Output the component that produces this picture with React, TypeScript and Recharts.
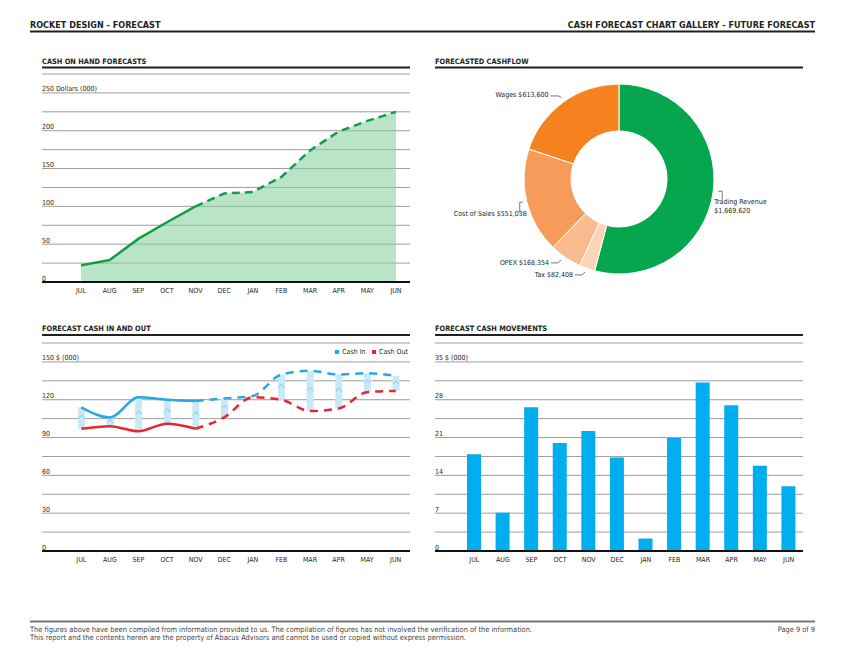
import React from 'react';
import {
  ComposedChart,
  BarChart,
  PieChart,
  Pie,
  Cell,
  Area,
  Line,
  Bar,
  XAxis,
  YAxis,
  CartesianGrid,
} from 'recharts';

const FONT = "'Liberation Sans Narrow', 'DejaVu Sans Condensed', 'Roboto', sans-serif";
const INK = '#231f20';

// ---- data ----
const months = ['JUL', 'AUG', 'SEP', 'OCT', 'NOV', 'DEC', 'JAN', 'FEB', 'MAR', 'APR', 'MAY', 'JUN'];
const lastActual = 4; // NOV: solid up to here, dashed forecast after

const cashOnHand = [22, 29, 57, 79, 100, 117, 119, 139, 174, 199, 213, 225];
const cashIn = [114, 106, 122, 120, 119, 121, 123, 140, 143, 140, 141, 139];
const cashOut = [97, 99, 95, 101, 97, 106, 122, 120, 111, 113, 126, 127];
const cashMovements = [17.9, 7.1, 26.6, 20, 22.2, 17.3, 2.3, 20.9, 31.2, 27, 15.8, 12];

const cashflowNames = ['Trading Revenue', 'Tax', 'OPEX', 'Cost of Sales', 'Wages'];
const cashflowValues = [1669620, 82408, 168354, 551038, 613600];
const cashflowColors = ['#06a64f', '#fcd4b6', '#f9ba8d', '#f79b5b', '#f5821f'];

const handTicks = [0, 25, 50, 75, 100, 125, 150, 175, 200, 225, 250, 275];
const inOutTicks = [0, 15, 30, 45, 60, 75, 90, 105, 120, 135, 150, 165];
const moveTicks = [0, 3.5, 7, 10.5, 14, 17.5, 21, 24.5, 28, 31.5, 35, 38.5];

const handData = months.map((m, i) => ({
  month: m,
  total: cashOnHand[i],
  actual: i <= lastActual ? cashOnHand[i] : null,
  forecast: i >= lastActual ? cashOnHand[i] : null,
}));

const inOutData = months.map((m, i) => ({
  month: m,
  in: cashIn[i],
  out: cashOut[i],
  inActual: i <= lastActual ? cashIn[i] : null,
  inForecast: i >= lastActual ? cashIn[i] : null,
  outActual: i <= lastActual ? cashOut[i] : null,
  outForecast: i >= lastActual ? cashOut[i] : null,
}));

const moveData = months.map((m, i) => ({ month: m, value: cashMovements[i] }));

const pieData = cashflowNames.map((n, i) => ({ name: n, value: cashflowValues[i] }));

const fmt = (v: number) => '$' + v.toLocaleString('en-US');

// y labels sit on top of every second grid line, left aligned
const yTick = (every: number, top: number, unit: string) => (props: any) => {
  const { x, y, payload } = props;
  const v = payload.value;
  const r = v / every;
  if (Math.abs(r - Math.round(r)) > 1e-6) return <g />;
  return (
    <text x={x} y={y - 1.5} fontSize={7} fill={INK} fontFamily={FONT} textAnchor="start">
      {Math.abs(v - top) < 1e-6 ? `${v} ${unit}` : v}
    </text>
  );
};

const xAxisProps = {
  dataKey: 'month',
  tickLine: false,
  tickSize: 0,
  tickMargin: 6.5,
  height: 20,
  interval: 0 as const,
  padding: { left: 25, right: 0 },
  axisLine: { stroke: '#111', strokeWidth: 2 },
  tick: { fontSize: 7, fill: INK, fontFamily: FONT },
};

const yAxisProps = {
  width: 1,
  mirror: true,
  interval: 0 as const,
  axisLine: false,
  tickLine: false,
  tickSize: 0,
  tickMargin: 0,
};

const chartMargin = { top: 6, right: 0, bottom: 6, left: 0 };

// range bar between cash out and cash in, with a little caret
const GapBar = (props: any) => {
  const { x, y, width, height } = props;
  if (!height || Math.abs(height) < 2) return <g />;
  const cx = x + width / 2;
  const top = Math.min(y, y + height);
  const my = top + Math.abs(height) * 0.45;
  return (
    <g>
      <rect x={x} y={top} width={width} height={Math.abs(height)} fill="#c9e9f8" />
      <polyline
        points={`${cx - 3},${my + 1.8} ${cx},${my - 1.8} ${cx + 3},${my + 1.8}`}
        fill="none"
        stroke="#7ccbef"
        strokeWidth={1}
      />
    </g>
  );
};

// label text and leader offsets relative to the outer edge at the slice middle
const pieLabelLayout: Record<string, { dx: number; dy: number[]; anchor: 'start' | 'end'; lines: (v: number) => string[]; leader: number[][] }> = {
  Wages: { dx: -15, dy: [-4.5], anchor: 'end', lines: (v) => [`Wages ${fmt(v)}`], leader: [[-13, -6], [-5, -6], [-2, -4.5]] },
  'Cost of Sales': { dx: 0, dy: [14.5], anchor: 'end', lines: (v) => [`Cost of Sales ${fmt(v)}`], leader: [[-4, 0.7], [-7, 0.7], [-7, 11]] },
  OPEX: { dx: -16.5, dy: [7], anchor: 'end', lines: (v) => [`OPEX ${fmt(v)}`], leader: [[-14.5, 5.4], [-7.5, 5.4], [-4.5, 2.4]] },
  Tax: { dx: -14, dy: [9], anchor: 'end', lines: (v) => [`Tax ${fmt(v)}`], leader: [[-12, 6.5], [-5, 6.5], [-2, 3.5]] },
  'Trading Revenue': { dx: 1, dy: [13, 21.5], anchor: 'start', lines: (v) => ['Trading Revenue', fmt(v)], leader: [[5, 0], [9, 0], [9, 9]] },
};

const PieLabel = (props: any) => {
  const { cx, cy, midAngle, outerRadius, name, value } = props;
  const rad = (Math.PI / 180) * -midAngle;
  const ox = cx + outerRadius * Math.cos(rad);
  const oy = cy + outerRadius * Math.sin(rad);
  const l = pieLabelLayout[name];
  if (!l) return <g />;
  const lines = l.lines(value);
  return (
    <g>
      <polyline
        points={l.leader.map(([a, b]) => `${ox + a},${oy + b}`).join(' ')}
        fill="none"
        stroke="#444"
        strokeWidth={0.7}
      />
      {lines.map((t, i) => (
        <text key={i} x={ox + l.dx} y={oy + l.dy[i]} fontSize={7} fill={INK} fontFamily={FONT} textAnchor={l.anchor}>
          {t}
        </text>
      ))}
    </g>
  );
};

const Frame = () => (
  <svg width={847} height={654} style={{ position: 'absolute', left: 0, top: 0 }} fontFamily={FONT}>
    <text x={30} y={27.5} fontSize={9} fontWeight={700} fill={INK}>ROCKET DESIGN - FORECAST</text>
    <text x={815} y={27.5} fontSize={9} fontWeight={700} fill={INK} textAnchor="end">
      CASH FORECAST CHART GALLERY - FUTURE FORECAST
    </text>
    <line x1={30} x2={815} y1={31.5} y2={31.5} stroke={INK} strokeWidth={2} />

    <text x={42} y={64} fontSize={7.4} fontWeight={700} fill={INK}>CASH ON HAND FORECASTS</text>
    <line x1={42} x2={410} y1={67.5} y2={67.5} stroke={INK} strokeWidth={2} />
    <text x={435} y={64} fontSize={7.4} fontWeight={700} fill={INK}>FORECASTED CASHFLOW</text>
    <line x1={435} x2={803} y1={67.5} y2={67.5} stroke={INK} strokeWidth={2} />
    <text x={42} y={331} fontSize={7.4} fontWeight={700} fill={INK}>FORECAST CASH IN AND OUT</text>
    <line x1={42} x2={410} y1={335} y2={335} stroke={INK} strokeWidth={2} />
    <text x={435} y={331} fontSize={7.4} fontWeight={700} fill={INK}>FORECAST CASH MOVEMENTS</text>
    <line x1={435} x2={803} y1={335} y2={335} stroke={INK} strokeWidth={2} />

    <line x1={30} x2={815} y1={621.5} y2={621.5} stroke="#777" strokeWidth={2} />
    <text x={30} y={631.5} fontSize={7.4} fill="#444">
      The figures above have been compiled from information provided to us. The compilation of figures has not involved the verification of the information.
    </text>
    <text x={30} y={640} fontSize={7.4} fill="#444">
      This report and the contents herein are the property of Abacus Advisors and cannot be used or copied without express permission.
    </text>
    <text x={815} y={631.5} fontSize={7.4} fill="#444" textAnchor="end">Page 9 of 9</text>
  </svg>
);

export default function App() {
  return (
    <div style={{ position: 'absolute', left: 0, top: 0, width: 847, height: 654, background: '#fff', fontFamily: FONT }}>
      <Frame />

      {/* cash on hand */}
      <div style={{ position: 'absolute', left: 42, top: 68 }}>
        <ComposedChart width={368} height={240} data={handData} margin={chartMargin}>
          <CartesianGrid vertical={false} stroke="#9d9d9d" strokeWidth={1} />
          <XAxis {...xAxisProps} padding={{ left: 39, right: 14 }} />
          <YAxis {...yAxisProps} domain={[0, 275]} ticks={handTicks} tick={yTick(50, 250, 'Dollars (000)')} />
          <Area type="linear" dataKey="total" stroke="none" fill="#8ad2a3" fillOpacity={0.6} isAnimationActive={false} />
          <Line type="linear" dataKey="actual" stroke="#169c47" strokeWidth={2.5} dot={false} isAnimationActive={false} />
          <Line
            type="linear"
            dataKey="forecast"
            stroke="#169c47"
            strokeWidth={2.5}
            strokeDasharray="8 5"
            dot={false}
            isAnimationActive={false}
          />
        </ComposedChart>
      </div>

      {/* forecasted cashflow */}
      <div style={{ position: 'absolute', left: 435, top: 70 }}>
        <PieChart width={368} height={220} margin={{ top: 0, right: 0, bottom: 0, left: 0 }}>
          <Pie
            data={pieData}
            dataKey="value"
            nameKey="name"
            cx={184}
            cy={109}
            innerRadius={48}
            outerRadius={95}
            startAngle={90}
            endAngle={-270}
            stroke="#fff"
            strokeWidth={1}
            labelLine={false}
            label={PieLabel}
            isAnimationActive={false}
          >
            {pieData.map((d, i) => (
              <Cell key={d.name} fill={cashflowColors[i]} />
            ))}
          </Pie>
        </PieChart>
      </div>

      {/* cash in and out */}
      <div style={{ position: 'absolute', left: 42, top: 337 }}>
        <ComposedChart width={368} height={240} data={inOutData} margin={chartMargin}>
          <CartesianGrid vertical={false} stroke="#9d9d9d" strokeWidth={1} />
          <XAxis {...xAxisProps} />
          <YAxis {...yAxisProps} domain={[0, 165]} ticks={inOutTicks} tick={yTick(30, 150, '$ (000)')} />
          <Bar dataKey={(d: any) => [d.out, d.in]} barSize={7} shape={GapBar} isAnimationActive={false} />
          <Line type="monotone" dataKey="inActual" stroke="#29a9e1" strokeWidth={2.5} dot={false} isAnimationActive={false} />
          <Line type="monotone" dataKey="inForecast" stroke="#29a9e1" strokeWidth={2.5} strokeDasharray="8 6" dot={false} isAnimationActive={false} />
          <Line type="monotone" dataKey="outActual" stroke="#e8262f" strokeWidth={2.5} dot={false} isAnimationActive={false} />
          <Line type="monotone" dataKey="outForecast" stroke="#e8262f" strokeWidth={2.5} strokeDasharray="8 6" dot={false} isAnimationActive={false} />
        </ComposedChart>
        <div style={{ position: 'absolute', right: 2, top: 11, fontSize: 7, color: INK, display: 'flex', gap: 6, lineHeight: '9px' }}>
          <span><span style={{ display: 'inline-block', width: 4.5, height: 4.5, background: '#29a9e1', marginRight: 3 }} />Cash In</span>
          <span><span style={{ display: 'inline-block', width: 4.5, height: 4.5, background: '#e8262f', marginRight: 3 }} />Cash Out</span>
        </div>
      </div>

      {/* cash movements */}
      <div style={{ position: 'absolute', left: 435, top: 337 }}>
        <BarChart width={368} height={240} data={moveData} margin={chartMargin}>
          <CartesianGrid vertical={false} stroke="#9d9d9d" strokeWidth={1} />
          <XAxis {...xAxisProps} />
          <YAxis {...yAxisProps} domain={[0, 38.5]} ticks={moveTicks} tick={yTick(7, 35, '$ (000)')} />
          <Bar dataKey="value" fill="#00aeef" barSize={14} isAnimationActive={false} />
        </BarChart>
      </div>
    </div>
  );
}
